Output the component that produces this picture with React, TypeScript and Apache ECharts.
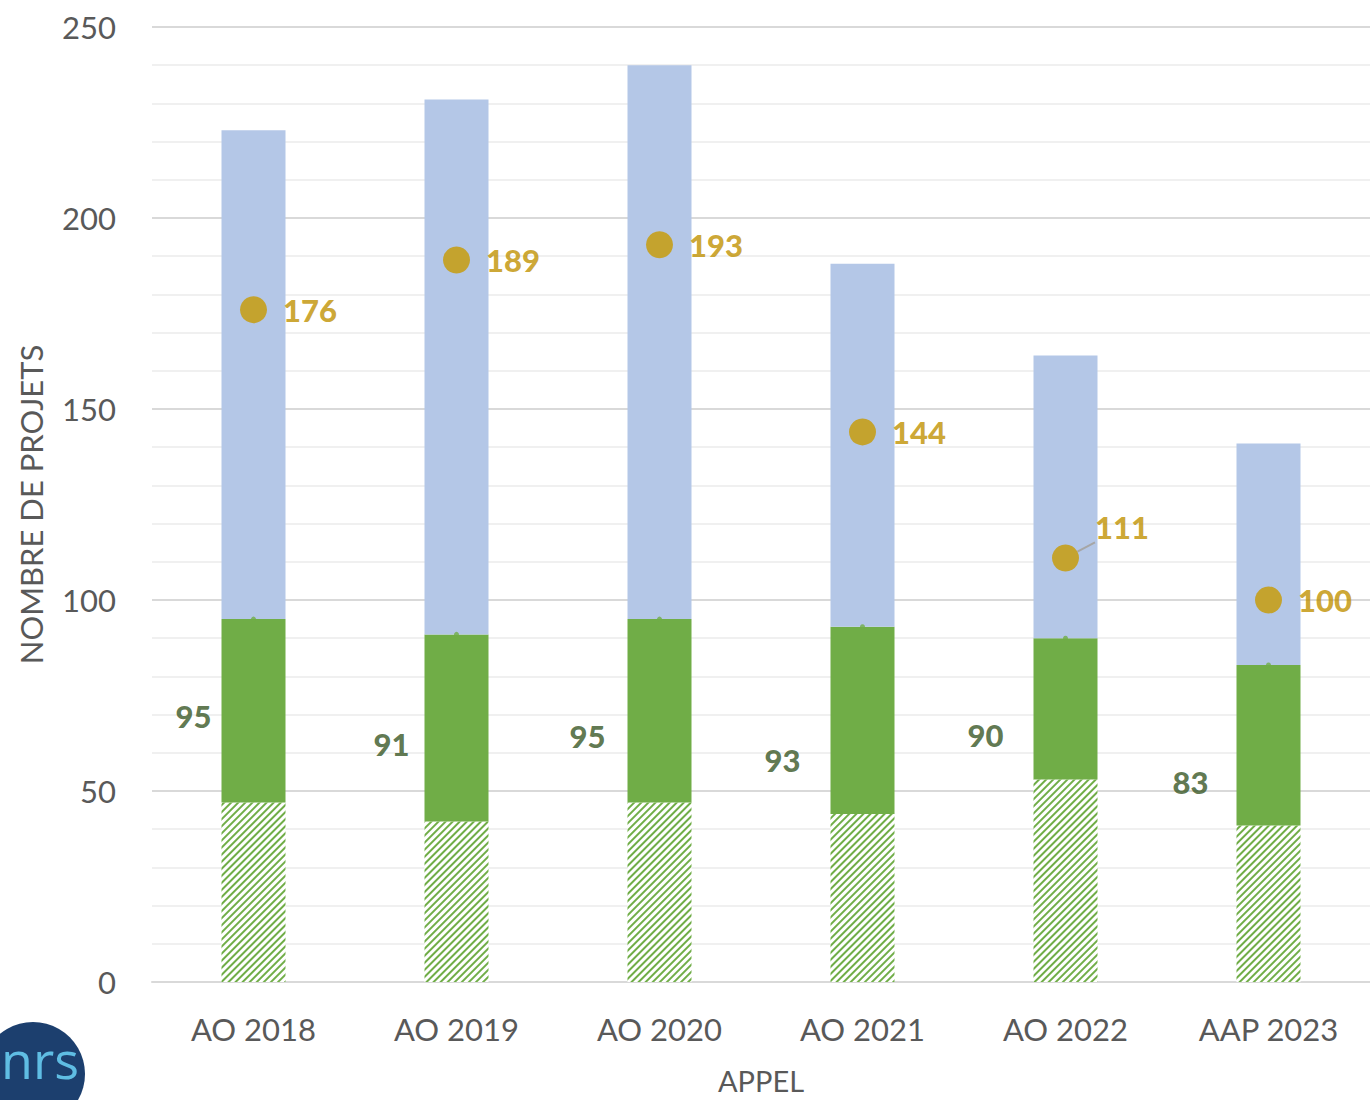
import React, { useEffect, useRef } from "react";
import * as echarts from "echarts";

const categories = ["AO 2018", "AO 2019", "AO 2020", "AO 2021", "AO 2022", "AAP 2023"];
const hatchedValues = [47, 42, 47, 44, 53, 41];
const greenTotals = [95, 91, 95, 93, 90, 83];
const totalValues = [223, 231, 240, 188, 164, 141];
const dotValues = [176, 189, 193, 144, 111, 100];
const yTicks = [0, 50, 100, 150, 200, 250];

// label offsets (styling only)
const greenLabelOffsets = [[-60, 97], [-65, 110], [-72, 117], [-80, 133], [-80, 97], [-78, 117]];

const FONT = "Lato, 'Open Sans', sans-serif";

export default function App() {
  const ref = useRef<HTMLDivElement>(null);
  useEffect(() => {
    document.body.style.margin = "0";
    const chart = echarts.init(ref.current!, null, { renderer: "svg" });
    const greenSeg = greenTotals.map((g, i) => g - hatchedValues[i]);
    const blueSeg = totalValues.map((t, i) => t - greenTotals[i]);
    chart.setOption({
      animation: false,
      textStyle: { fontFamily: FONT },
      grid: { left: 152, right: 0, top: 27, bottom: 116 },
      xAxis: {
        type: "category",
        data: categories,
        axisLine: { lineStyle: { color: "#d9d9d9", width: 2 } },
        axisTick: { show: false },
        axisLabel: { color: "#595959", fontSize: 31, margin: 31, fontFamily: FONT },
        name: "APPEL",
        nameLocation: "middle",
        nameGap: 84,
        nameTextStyle: { color: "#595959", fontSize: 29, fontFamily: FONT },
      },
      yAxis: {
        type: "value",
        min: yTicks[0],
        max: yTicks[yTicks.length - 1],
        interval: 50,
        axisLine: { show: false },
        axisTick: { show: false },
        axisLabel: { color: "#595959", fontSize: 31, margin: 36, fontFamily: FONT },
        splitLine: { lineStyle: { color: "#d9d9d9", width: 2 } },
        minorTick: { show: false, splitNumber: 5 },
        minorSplitLine: { show: true, lineStyle: { color: "#f0f0f0", width: 2 } },
        name: "NOMBRE DE PROJETS",
        nameLocation: "middle",
        nameGap: 106,
        nameTextStyle: { color: "#595959", fontSize: 31, fontFamily: FONT },
      },
      series: [
        {
          type: "bar",
          stack: "s",
          barWidth: 64,
          data: hatchedValues,
          itemStyle: {
            color: "#ffffff",
            decal: {
              symbol: "rect",
              color: "#70AD47",
              dashArrayX: [1, 0],
              dashArrayY: [2, 3],
              rotation: -Math.PI / 4,
              symbolSize: 1,
            },
          },
        },
        {
          type: "bar",
          stack: "s",
          barWidth: 64,
          data: greenSeg,
          itemStyle: { color: "#70AD47" },
        },
        {
          type: "bar",
          stack: "s",
          barWidth: 64,
          data: blueSeg,
          itemStyle: { color: "#B4C7E7" },
        },
        {
          type: "scatter",
          symbolSize: 5,
          itemStyle: { color: "#70AD47" },
          data: greenTotals.map((v, i) => ({
            value: [i, v],
            label: { offset: greenLabelOffsets[i] },
          })),
          label: {
            show: true,
            position: "inside",
            color: "#375623",
            fontSize: 31,
            fontWeight: 900,
            fontFamily: FONT,
          },
          z: 5,
        },
        {
          type: "scatter",
          symbolSize: 27,
          itemStyle: { color: "#C89A00" },
          data: dotValues.map((v, i) =>
            i === 4
              ? {
                  value: [i, v],
                  label: { offset: [0, -31] },
                  labelLine: { show: true },
                }
              : { value: [i, v] }
          ),
          label: {
            show: true,
            position: "right",
            distance: 16,
            color: "#BF9000",
            fontSize: 31,
            fontWeight: 900,
            fontFamily: FONT,
          },
          labelLine: { show: false, lineStyle: { color: "#a6a6a6", width: 2 } },
          z: 6,
        },
      ],
      graphic: [
        {
          type: "circle",
          shape: { cx: 33, cy: 1074, r: 52 },
          style: { fill: "#1c3f6e" },
        },
        {
          type: "text",
          x: 1,
          y: 1032,
          style: {
            text: "nrs",
            fill: "#5fbde3",
            fontSize: 52,
            fontFamily: "'Open Sans', sans-serif",
          },
        },
      ],
    });
    return () => chart.dispose();
  }, []);
  return <div ref={ref} style={{ width: 1370, height: 1100 }} />;
}
